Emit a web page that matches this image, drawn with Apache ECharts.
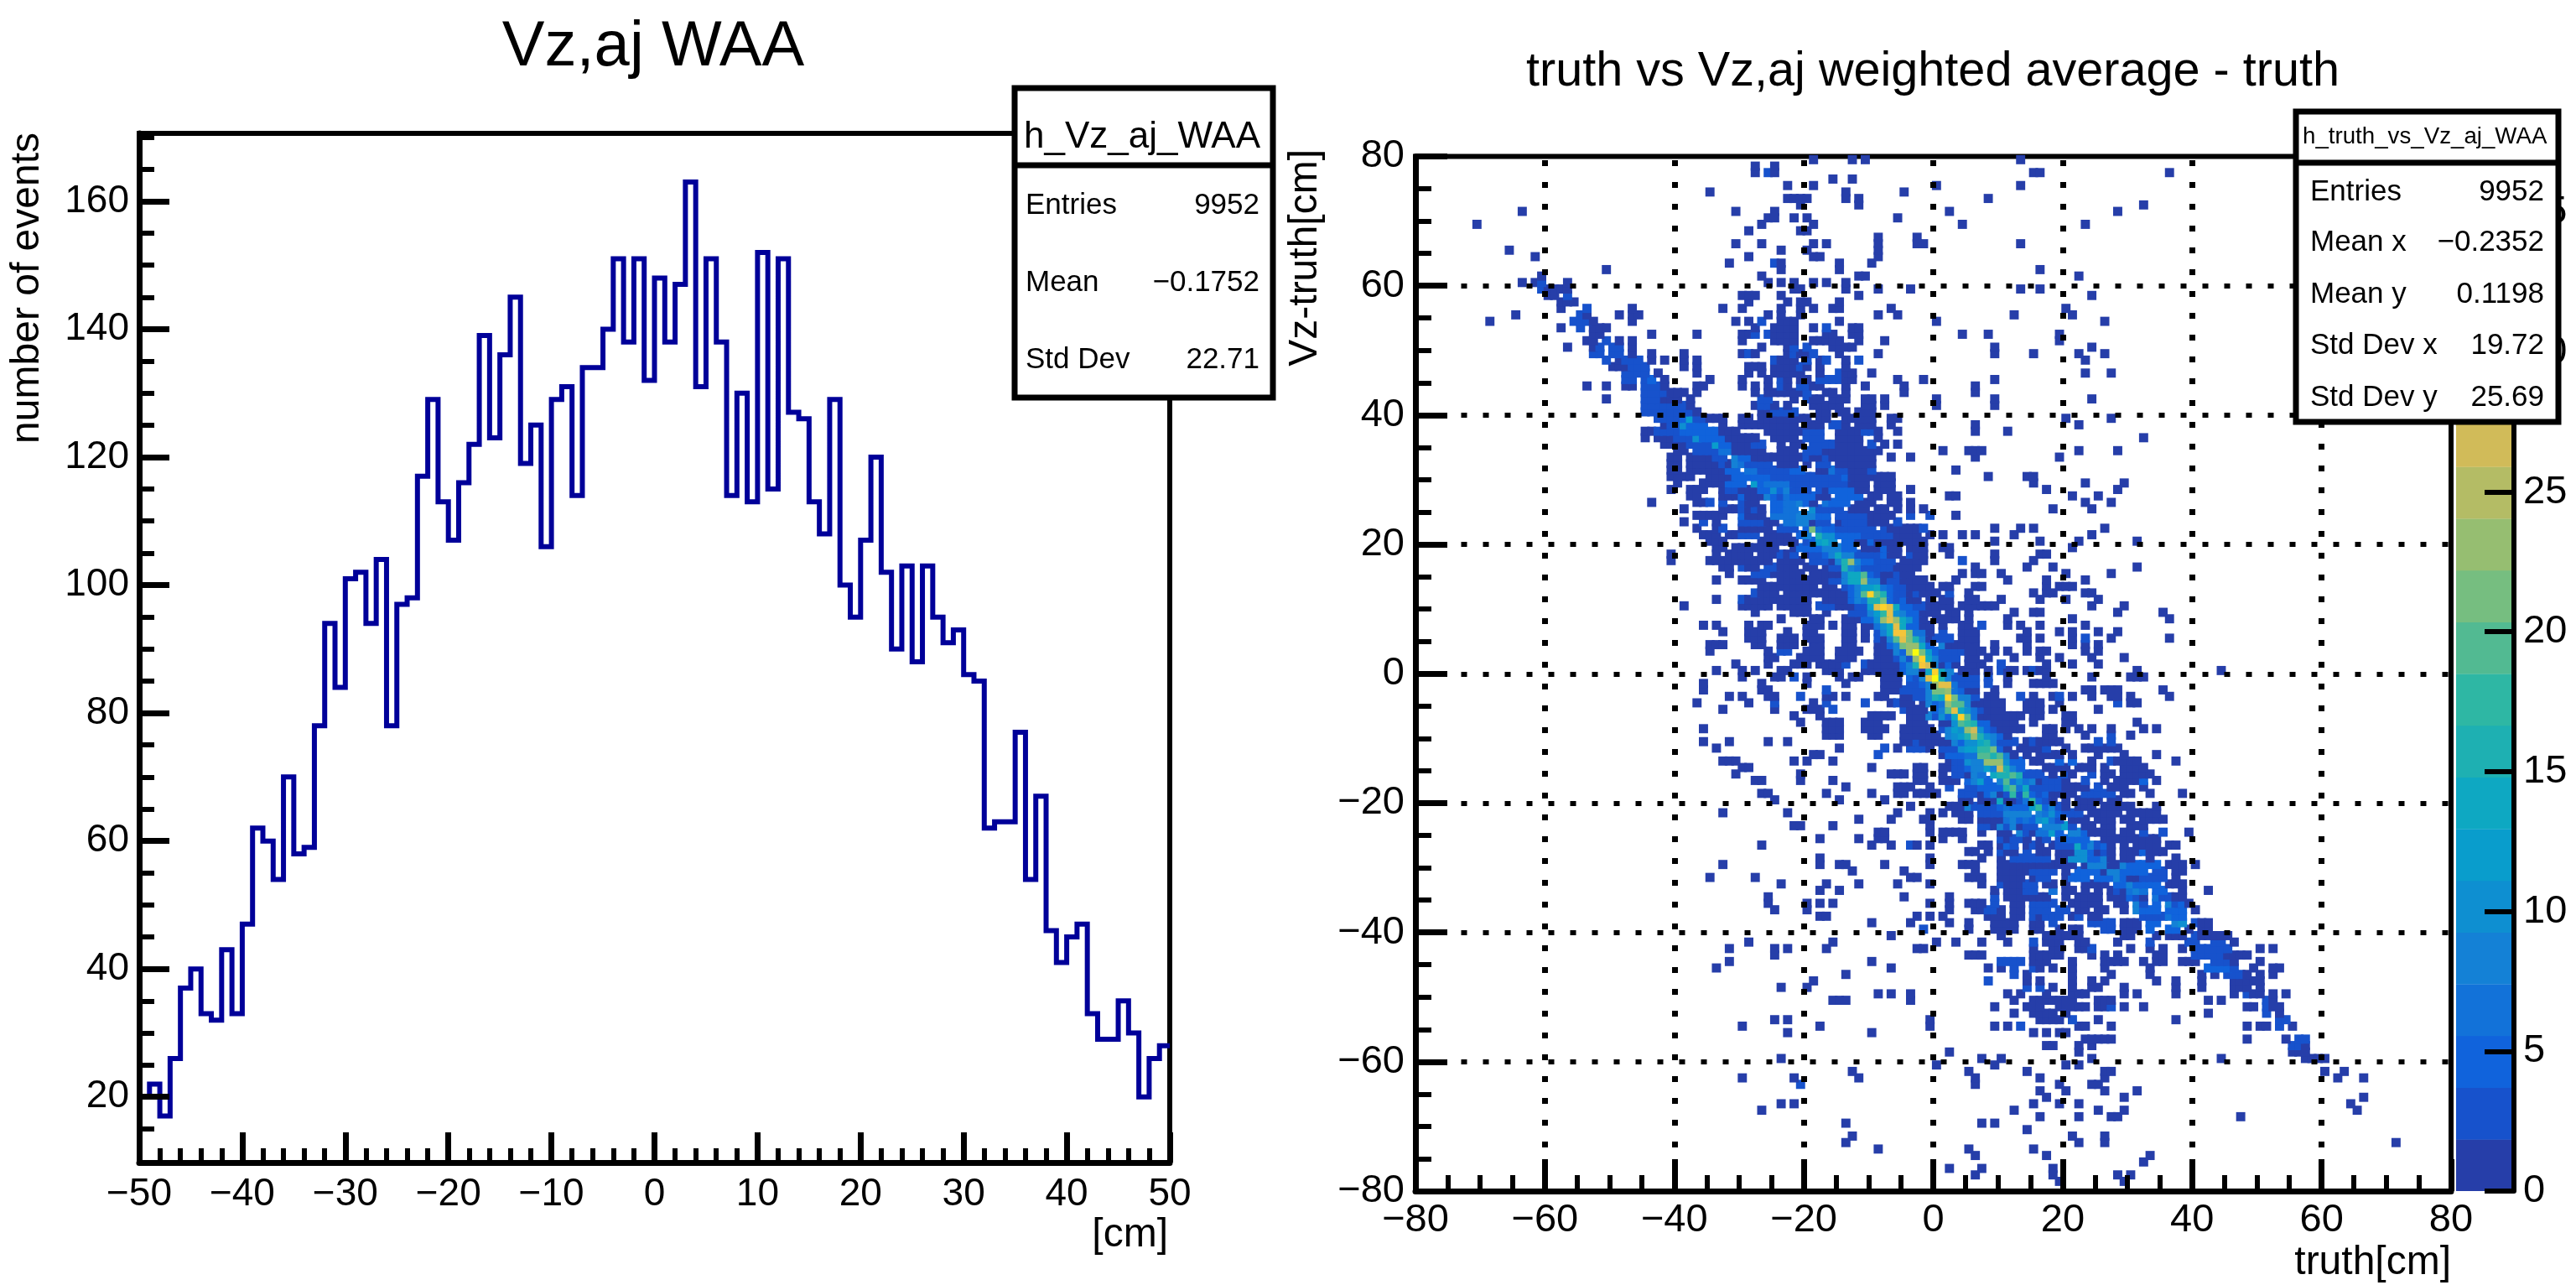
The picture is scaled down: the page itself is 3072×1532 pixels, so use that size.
<!DOCTYPE html>
<html><head><meta charset="utf-8">
<style>html,body{margin:0;padding:0;background:#fff}#c{width:3072px;height:1532px}</style>
<script src="https://cdn.jsdelivr.net/npm/echarts@6/dist/echarts.min.js"></script>
</head><body><div id="c"></div>
<script>
const FONT = 'Liberation Sans';
const histTitle = 'Vz,aj WAA';
const heatTitle = 'truth vs Vz,aj weighted average - truth';
// counts per 1 cm bin, from x = -50 to x = 50
const histValues = [20,22,17,26,37,40,33,32,43,33,47,62,60,54,70,58,59,78,94,84,
  101,102,94,104,78,97,98,117,129,113,107,116,122,139,123,136,145,119,125,106,
  129,131,114,134,134,140,151,138,151,132,148,138,147,163,131,151,138,114,130,113,
  152,115,151,127,126,113,108,129,100,95,107,120,102,90,103,88,103,95,91,93,
  86,85,62,63,63,77,54,67,46,41,45,47,33,29,29,35,30,20,26,28];
const histYMajor = [20,40,60,80,100,120,140,160];
const histYMinor = [15,25,30,35,45,50,55,65,70,75,85,90,95,105,110,115,125,130,135,145,150,155,165,170];
const barTicks = [0,5,10,15,20,25,30,35];
const histStats = [['Entries','9952'],['Mean','\u22120.1752'],['Std Dev','22.71']];
const heatStats = [['Entries','9952'],['Mean x','\u22120.2352'],['Mean y','0.1198'],['Std Dev x','19.72'],['Std Dev y','25.69']];
const barMax = 37;
const heatColors = ['#263EA9','#1752CC','#1063DC','#1272D9','#1481D6','#0E8FD1','#099DCC','#0EA8C2','#1EB0B2','#2EB7A4','#52BA92','#76BE80','#96BE71','#B4BC65','#D1BB59','#E3C049','#F5C53A','#FDD22B','#FBE61C','#F9FB0E'];
// row | columns: a, a:b (run), optional *count (default 1)
const heatRows = [
"79|-19 -13 -11 13","78|-28 -25","77|-28 -26*2 -25 15 16 36","76|-16 -13","75|-23 -19 0 13","74|-35 -14 -5",
"73|-23:-20 -14 -12 8","72|-21 -12 32","71|-64 -31 -25 2 28","70|-26 -25 -22 -20 -6","69|-71 -27 -19 4 23","68|-29 -21 -20",
"67|-9 -3","66|-31 -27 -19 -17 -9 -3 -2 13","65|-66 -24 -20 -9","64|-62 -29 -19 -18 -9","63|-32 -25*2 -24 -15 -10","62|-51 -24 -15 16",
"61|-61 -27 -12 -11 22","60|-64 -62 -61*2 -57 -26 -24 -22 -19 -17 -14","59|-61*3 -60:-57 -22 -21 -14 -9 -4 13 16","58|-60 -59 -57*2 -30:-28 -24 -12 24",
"57|-58:-56 -29 -23 -21 -20 -15","56|-58 -54*2 -47 -33 -30 -24 -21 -19 -16 -15 -7 20","55|-65 -55*3 -54 -49 -47 -46 -26 -24 -21 -9 -6 12 21",
"54|-69 -56:-54*3 -53 -47 -31 -29 -27*2 -24:-22 -15 0 26","53|-58 -55*2 -53:-51 -28 -25:-22 -19 -17*2 -13 -12",
"52|-53 -52 -44 -37 -30 -29 -28*2 -26*2 -25:-22 -17 -16 -13 -12 4 8 19","51|-54 -53 -51*2 -49 -47 -30 -25:-22 -19:-15 -12 -8 19",
"50|-57 -53 -52*2 -50*2 -49*2 -47 -27 -23 -22*2 -20*2 -16 -15 -14 -13 9 24",
"49|-53*2 -52*2 -50*3 -49*2 -47 -44 -39 -30 -29*2 -28 -23 -22*2 -21 -20 -19*2 -15 -9 9 15 22 26",
"48|-51*2 -49 -48*2 -47*2 -46*2 -44 -42 -39 -37 -25*2 -24:-22 -20*2 -18 -17*2 -14 -12*2 23",
"47|-50:-48 -47*2 -46*2 -45*2 -39 -37 -29:-27 -25:-22 -21*2 -20 -18 -14",
"46|-48*2 -47*2 -46*2 -45*2 -43 -37 -29 -27 -25:-22 -21 -18 -15*2 -14 -13 -10 23 27",
"45|-48*2 -47*3 -45*3 -44*4 -42 -35 -30 -26 -24*2 -23 -21 -20 -18*3 -17*2 -16*2 -15*2 -14 -13 -6 -2 9",
"44|-54 -51 -48 -47 -45*2 -44*3 -43*3 -42 -37 -36 -30 -28 -26 -24*2 -23 -21*3 -20*2 -19 -18 -14 -11 -5 6",
"43|-45:-42*2 -41:-39 -37 -28 -26 -25 -24:-22 -21 -20*3 -17 -16 -14 -5 6",
"42|-51 -45*3 -44*3 -43*3 -42 -41 -40 -38 -27*2 -26*2 -22 -20*2 -19 -18 -16:-14 -11 -10 -8 0 9 24",
"41|-45:-39*3 -38 -28 -27*3 -26*2 -25 -23 -19:-15 -11 -10 -8 0 9",
"40|-45:-38*3 -37 -27 -26 -25:-22*2 -18 -17 -15 -14 -12:-10",
"39|-43:-41*3 -40*3 -39*4 -38*12 -37*3 -36*2 -35:-33 -30 -29 -27:-22 -21:-20 -18:-17 -14:-12 -11:-10 -7 -6 20 27",
"38|-42 -41:-40*2 -39*10 -38:-36*4 -33 -30 -29 -28 -27:-22 -20:-19 -18 -16:-15*2 -14 -12:-11 -10 -7 6 22",
"37|-45 -44 -43:-40*2 -39:-37*4 -36:-34*5 -33:-31 -26:-22 -21 -20:-18*3 -15:-12 -11:-10*3 -9 -6 6 11",
"36|-45 -43:-41 -40:-38*3 -37*10 -36:-33*4 -32:-28 -25:-22 -20:-18*2 -15:-12 -9 32",
"35|-42 -41 -40 -39 -38:-35*3 -34*12 -33:-32*4 -31:-29 -28:-27*3 -24 -22:-21 -19:-16*3 -15:-12 -10*3 -8 -6",
"34|-40 -39 -37:-34*3 -33*6 -32*6 -31:-27 -24:-22 -20:-18*3 -17 -16 -15:-11 -10:-9 1 5:7 22 28",
"33|-41:-40 -38:-35 -34:-33*3 -31*8 -30*5 -29*4 -28:-27 -26:-25 -24:-21 -20*3 -19:-18 -17*3 -16:-12 -11:-10 -7 -4 6 19",
"32|-41:-40 -38 -37:-36 -35:-34 -33*3 -32 -31*8 -30*6 -29:-26*2 -24 -23:-22 -20 -18:-17*2 -15 -14:-12 -11:-10",
"31|-41:-40 -38:-36 -35:-33 -32:-31*5 -29*7 -28*7 -27:-23*3 -22:-21*4 -18:-17 -16*7 -15:-14*3 -13:-11 -10*3 3",
"30|-41 -40:-38 -35:-32 -31:-28*4 -27:-26*5 -25:-23*3 -22:-15*3 -14*4 -13 -12:-10 -9:-7 8 14 15",
"29|-40 -36:-35 -34:-33 -32:-30*4 -28*12 -27*4 -26:-23*6 -22:-14*3 -13:-11 -9:-7 15 23 29",
"28|-41 -38:-36 -33 -32:-31*2 -30:-28 -27:-26*4 -25*10 -24*5 -23*8 -22:-20*3 -18*3 -17 -16:-13*4 -12:-11 -9:-7 -4 17 28",
"27|-38 -37 -33 -32:-31 -30*5 -29:-27 -26*9 -25*5 -24*3 -23*6 -22:-19*4 -18:-17 -15*5 -14:-12*5 -10 -9 -7:-6 2:3 21 25",
"26|-44 -37:-36 -35*3 -33*3 -30*3 -29:-28 -25:-24*5 -23:-22*6 -21*8 -20*5 -19 -17*7 -16:-14*4 -12 -11 -10 -7:-6 -4 23 27",
"25|-39 -33:-31 -30*3 -29 -28*3 -27 -25:-24*4 -23:-22*7 -19*10 -18:-15*3 -13 -12:-11 -9:-8 -6 -4 -2 18 24",
"24|-37:-33 -30*5 -29:-27 -25*7 -24:-22*6 -21:-19*8 -18*5 -17*5 -15:-11*3 -10:-7 -4*3 -1*3 3",
"23|-39 -36*3 -34 -30:-27*2 -26:-25 -23:-22*6 -21*8 -20*8 -19 -18*3 -17*3 -15 -14:-12*3 -11*3 -10:-8 -6*3",
"22|-37 -34 -33*3 -30:-28 -27:-26 -24:-22*3 -20*4 -19*22 -18*6 -17:-16*4 -15:-10*3 -8*2 -7:-3 -2*3 9 13 15 26",
"21|-36 -35:-34 -32:-31 -30:-28*3 -26:-23 -21*4 -20*8 -18*16 -17*10 -16*10 -15:-13*4 -12*4 -11:-7*2 -6:-4 -3 -1 1 4 6 12 24",
"20|-35:-33 -27:-24 -23:-22 -20*3 -19*5 -18*12 -17*14 -16*10 -14:-13*4 -12:-11 -10*5 -9:-8 -7 -6:-3 -2 9 16 22 31",
"19|-34:-33 -31:-28 -27:-26 -25 -22 -21:-18*4 -17*8 -16*8 -15*8 -14:-13*5 -11:-9 -8*4 -7:-6 -4:-2 1:2 21",
"18|-41 -34 -32:-29 -27:-25 -24*3 -23 -22*3 -20 -19:-18*3 -17*5 -16*8 -15*14 -14*8 -13*8 -12:-9*3 -8*4 -7:-6 -4*3 -3:-2 2 9 16 17",
"17|-41 -35:-27 -26 -24:-21 -19:-18*3 -17*3 -16 -15*8 -14*16 -13*24 -12*8 -11:-10*5 -9:-7*3 -5:-2 4*3 9 15",
"16|-33:-32 -30*3 -29:-28 -26:-25*3 -24:-22 -20 -19 -17 -16*3 -15*3 -14*16 -13*8 -12*6 -11:-9*3 -8*3 -7*3 -6:-4 -3 6 14 18 31",
"15|-32 -28:-26*2 -25:-22 -21 -19:-18 -17:-15 -14*8 -13*14 -12*14 -11*20 -10*5 -9*3 -8:-7 -6*3 -5:-4 4 6 7 10 20 27",
"14|-34 -30:-28 -27 -24:-23 -22:-18 -17 -16:-15*3 -14*8 -13*14 -12*14 -11*24 -10*8 -9*8 -8 -7*3 -6*3 -5:-4 -3:-2 3 11 17 23",
"13|-27:-23 -22:-19 -17:-16 -14*3 -13*5 -12*8 -11*12 -10*12 -9*14 -8*6 -7*4 -6*3 -5*2 -4:-1 1 2 6 7 17 19:21",
"12|-28*3 -27:-25 -23:-19 -18:-14 -13*4 -12*8 -11*20 -10*33 -9*20 -8*16 -7*5 -6*3 -5*3 -4 -3*3 -2:-1 0 2*3 5 15 17:18 23:24",
"11|-34 -30*3 -29:-28 -27 -26:-23 -22:-20 -17:-16 -15:-14 -13*4 -12*8 -11*6 -10*16 -9*16 -8*22 -7*5 -6*3 -5*5 -4:-3 -1 1:2 5:6 10 16 20 25",
"10|-39 -30:-26 -24:-22 -21:-20 -18:-16*3 -15:-13 -12*3 -11*3 -10*12 -9*28 -8*33 -7*28 -6*14 -5*5 -4*5 -3:-2*3 -1 0:2 4:9 24 29",
"9|-28 -22:-20 -17 -13:-11*3 -10*8 -9*12 -8*18 -7*28 -6*10 -5*8 -4*5 -3*4 -2 -1:0 2:3 5 12 15:16 28 35",
"8|-24 -19:-18 -14:-12 -11:-10*4 -9*10 -8*24 -7*28 -6*24 -5*14 -4*10 -3*5 -2 0 1:2 3 5 11 21 36",
"7|-36 -34 -29 -27:-26 -20 -19:-18 -16 -14:-13 -11:-10 -9*6 -8*10 -7*14 -6*28 -5*14 -4:-3*5 -2:-1 1 4:5 7*3 11 13 16 23",
"6|-33 -29:-27 -23 -20 -19 -14 -13 -11 -9*3 -8*8 -7*14 -6*30 -5*30 -4*22 -3:-2*6 -1 1*3 4:6 14 19 21 25 28",
"5|-29:-27 -24:-22 -20:-18 -14:-13 -11 -9*3 -8 -7*8 -6*20 -5*28 -4*22 -3*16 -2*8 -1 0:2*3 4:6 13 14 16 21 23*2 27 36",
"4|-35:-33 -28:-27 -24:-22 -19:-18 -14:-13 -9:-8 -7*5 -6*8 -5*22 -4*24 -3*24 -2*14 -1*5 1*8 2 3:6 9 14 21 23 25",
"3|-35 -26 -24:-23*3 -20 -19:-18 -15:-12 -9:-8 -7 -6*8 -5*5 -4*24 -3*36 -2*22 -1*12 0*5 1:4*3 5:7 9 11 14 16 17 23 25",
"2|-26:-25 -21 -20 -19:-18 -15:-13 -9:-7 -6*3 -5*8 -4*3 -3*24 -2*33 -1*14 0*8 1:3*3 5:6 8 12 16 19 24 29",
"1|-31 -26 -22:-20 -18:-15 -14*3 -11*3 -10:-9 -8:-6 -5*5 -4*8 -3*16 -2*30 -1*26 0*8 1 2*5 3 5:7 10*3 17 21 25",
"0|-34 -30 -28 -24:-23 -17:-16 -15 -11 -10:-9 -8:-7 -6 -5*5 -4*8 -3*8 -2 -1*14 0*32 1*14 2*8 4 5:6 8 10*3 11:12 14 15*3 16:17 31 44",
"-1|-30 -25:-24 -22*3 -20 -15 -13:-12 -8:-6 -4*5 -3*3 -2*8 -1*28 0*36 1*16 2*8 3:6*2 8*2 11 17 24 30:32",
"-2|-36 -27 -20 -14 -8:-6 -4:-3*3 -2*5 -1*8 0*24 1*28 2*28 3*6 4:6*3 8*3 11 15:18",
"-3|-36 -27 -26 -17*2 -8:-6 -5:-3*3 -2*3 -1*8 0*22 1*22 2*24 3*6 4*5 5:6 9 23:24 26:28 35",
"-4|-32 -30 -26 -25 -21*2 -17 -16 -14 -9 -8 -5:-4 -3:-2*3 -1*8 0*16 1*14 2*32 3*22 4*8 5*8 6*3 8:9 13*3 15 18 19*3 21 24 27:28 30 36",
"-5|-37 -29 -25*2 -19 -17*2 -11*2 -7 -6*3 -5:-4 -2 -1*8 0*5 1*6 2*24 3*20 4*20 5*8 6 7 8:10 14:16 19 28*3 30:31",
"-6|-33 -25 -20:-18 -16*2 -5*3 -4:-2 0*5 1*8 2*20 3*28 4*14 5*10 6*6 7*3 8 9:10 14:16 18 25",
"-7|-22 -18 -10 -9 -8 -7 -4:-2 -1*8 0*3 1*10 2*5 3*14 4*33 5*20 6*6 7 8:10 11:13 15:16 20 21",
"-8|-21 -17:-15 -11:-9 -4:-3 -2 1:2 3*10 4*20 5*18 6*16 7*5 8*5 9 10:12 15 20 21 31",
"-9|-36 -17:-15 -11:-9 -8 -5:-3 -2:-1 1*3 2*8 3*12 4*10 5*24 6*26 7*10 8*5 9*3 10:13 17:18 20 22 24 27 32 34",
"-10|-17:-15 -10 -9 -5:-3 -2:0 2*8 3*10 4*12 5*16 6*24 7*16 8*10 9*8 10*5 11 17:18 23 27*3 30",
"-11|-36 -32 -26 -23 -5:-4 -3*3 -2:0 1:2 3*8 4*5 5*10 6*10 7*14 8*16 9*8 10:12*3 14 15*3 16:19 25*3 27*3",
"-12|-34 -15 -8*3 -6 -4:-2*3 -1 1*3 2*3 3*3 4*10 5*12 6*12 7*18 8*18 9*22 10*5 11 13:14 15:16 17*3 20 23:25 26:28",
"-13|-19 -18 -9*2 1:2 2:4*4 5*6 6*6 7*20 8*20 9*16 10*20 11*8 12 14 16:19 21 25 29 34",
"-14|-33:-31 -22 -20 -16 2 3:4*3 5*10 6*8 7*8 8*24 9*24 10*24 11*10 12*5 13*5 15:16 19*5 21*5 24 27*3 28:31 37",
"-15|-30 -29 -10 -3:-2 1:2 3:4*3 5*5 6*8 7*8 8*12 9*8 10*26 11*16 12*8 13*5 17:19 20 22:24 26 29:32",
"-16|-31 -21 -7:-5 -3:-2 1 3:4*3 5 6*8 7*6 9*14 10*16 11*16 12*20 13*16 14:16*3 18 20*3 21 24*3 26:27 29:33",
"-17|-28 -27 -21 -16 -3:-2 1:2 3 5*5 6*8 7*12 8*5 10*8 11*20 12*6 13*10 14*6 15*8 16 17:19*3 20 23*3 26 28 29:31 32*5 34",
"-18|-14 -6:-4 -1 2*3 5:6*3 7:9*5 10*5 11*16 12*20 13*6 14*14 15*3 16:19*3 20:22 23 25*3 27:28 29 32",
"-19|-27 -26 -17 -10 -6 -5 -3:-2 -1:0 4:6*3 7 8*5 9*8 10 11*3 12*18 13*3 14*18 15*5 16*3 17*5 18:21 23:27*3 29:30 33 38",
"-20|-25 -15 -8 4:5 7:9 10*14 11 12 13*3 14*6 15*18 16*5 17*3 18 20 22:24 25 27:28",
"-21|-4 2:4 5*8 6:9*3 10*5 11*6 12*5 13*5 14*5 15*12 16*18 17*5 18*8 19*3 20 22:24 26:28 29:30 34",
"-22|-33 -23 -6 -1 1 3:5 7:10*3 11*8 12:14*8 16*8 17*6 18*10 19*5 20:22*2 24:28 30:34",
"-23|-12 -7 -2 -1 4 5 7 8:10 11*6 12*8 13*5 14*6 15*5 16*10 17*12 18*6 19*3 21:23 25:27 29:30 32:35",
"-24|-22 -21 -16 -1 7*3 8*3 9 10*8 11*3 12*8 13 14*3 15*3 17*8 18:19*8 20*12 21*3 23:24 26:27 30:32",
"-25|-9 -8 -1 1:4 7 10 11 13*8 14*3 15 16*6 17*6 18*12 19*5 21*8 22*8 23*5 24 25:27 29:30 32*2 35*3 39",
"-26|-18 -12 -9 -8 1 4 10*3 11 12*3 13*3 14 16 17*3 19*3 20*5 21:23*4 26 27:30 31:34",
"-27|-27 -10 -7 -4*3 -3 -1 7 8 10 11*5 12*3 14 15*3 16 18 19:21*3 22*14 23*5 24*8 25*3 26*5 27 29 31:34 36:37",
"-28|5:6 8 10*3 11 12 14*3 16 17 19:21 22*10 23*10 24*5 25 26*3 27 29:31 32*5 33:34 35",
"-29|-18 -1 7 10 12:17*3 19:20 21*10 22*10 23*10 24*5 25*5 26*8 27 29:30 33 37",
"-30|-33 -18 -15 -14 -8 -1 4:6 10 11:17 18 19:21 23 24*8 25*8 26*8 27 28 29*8 30:34*4 36:38 40",
"-31|-13 -5 6 10:14 15:18*3 20 22:25*4 26 27*8 28*8 29:32*4 34:35*3 37:38",
"-32|-35 -28 -4:-3 5:7 10:13 15 16:17*3 20 21:23*5 25*5 26*5 27*5 28*8 29*5 30 31 32:35*3 37",
"-33|-24 -17 -12 -6 -1 7 10*3 11:13 14:15*3 17:18 20 23:24 25:26 28*5 29*5 30*8 31:34*4 36:38",
"-34|-18 -15 9 11:13 14:15*3 18*6 20:21 23 25 27 28*3 29 30*7 31*8 32*6 34*5 35*5 38 42",
"-35|-26 -5 2 9*3 11 12 13:17 20 22 23:25 27:28 29 30*5 31*3 32 34*6 35:36*3 37 38",
"-36|-26 -20 -18 -16 -1 2 5:7 9*3 12:13 15:18*3 21:23 24:25 28:29 31*8 32*3 34*4 36*8 37*3 38*5 39",
"-37|-25 -20 2 6:7 8*3 9*3 10 12:13 15:17*3 19:20*3 22:23 25 26 29 31*8 32:34*5 36*5 37*5 38*5 40",
"-38|-18 -17 -3 -1 1 8:10 12:13 15*3 16 17:19*3 21 22*3 24:25 32:35*3 36*6 37*5 38*4",
"-39|-10 -4 2 5 9:11 12 15:16 18*3 24*3 25:27*3 29:31 33:34*4 37*8 38*10 40*3 41:42",
"-40|-2*3 5 9:12 15:16 19 21:22 26:27*3 29:31 33*5 36:37*5 39 41:42",
"-41|-7 10 17:19 20:22 29:30 34 36:38 40*2 41:45",
"-42|-29 -16 0 3 7 11 15*3 17:19 22:23 28 33*2 39:40*2 43:44*2 46",
"-43|-32 -25 -23 -17 -3 -2 15 18:19 22:23 24*2 30 33 35 38 40:45*2 50 52",
"-44|-25 5:7 15:17 18:19 24 26 28 34:35 40:44*2 45:48",
"-45|-32 -10 10:13*2 15:17 21 26:29 32 34:35 38:40 43:45*3 46 50",
"-46|-34 -7 8 10 12*2 15*2 16 18 21 26 33 42:45*4 46*2 49 52:53",
"-47|-14 12*2 14 21 27 33 41 43 45:47*3 48 50 52",
"-48|-19 8*2 14 16 21 24 26 34 37 41 46:47 48:50",
"-49|-24 -20 14*2 16*2 18 21 24:25 29 37 41 46:48 50",
"-50|-9 -7 -4 11 13 17 21:23 29 31 37 46 48*2 49 50 52 54",
"-51|-16:-14 -4 12 15:18 19:20 21 25:27 42 44 51*2 52",
"-52|9 14:16 19:23 25:26 27*2 29 32 48:49 51*2 52:53",
"-53|12 15:18 20 42 51*2 53","-54|-25 -23 -1 16:19 21*2 25 37 53:54*2","-55|-30 -18 -1 9 11 13*2 22:23 27 48 50:51 53*2 55",
"-56|-23 -10 15 17 19:20","-57|23:27 48 54 56:57*3","-58|17:18 22 24 55:56*2 57","-59|2 22 55:57","-60|-24 7 10 24 44 57:60",
"-61|0 9 20 22","-62|-13 5 14 26:27 60 63","-63|-30 -22 -12 6 16 26 62 66","-64|-21*2 6 19 24:25","-65|16 20 26 31","-66|17 29 66",
"-67|-24 -22 15 19 22 64","-68|-27 12 25 29 65","-69|16 22 27 28 47","-70|-14 7 9","-71|14","-72|-13 21 26","-73|-14 22 26 71",
"-74|-9 5 15","-75|6 17 33","-76|32","-77|2 7 18","-78|6 18 28 30","-79|19 29"
];

function parseHeat(rows){
  const out=[];
  rows.forEach(r=>{
    const [iy,toks]=r.split('|');
    toks.trim().split(/\s+/).forEach(t=>{
      const [span,n]=t.split('*');
      const [a,b]=span.split(':').map(Number);
      const hi=(b===undefined||isNaN(b))?a:b;
      for(let x=a;x<=hi;x++) out.push([x,+iy,n?+n:1]);
    });
  });
  // ROOT paints cells bottom row first, left to right
  return out.sort((p,q)=>p[1]-q[1]||p[0]-q[0]);
}
const heatData=parseHeat(heatRows);
const histLine=[];
histValues.forEach((v,i)=>{histLine.push([-50+i,v]);histLine.push([-49+i,v]);});
const bandWidth=barMax/heatColors.length;
const barData=heatColors.map((c,i)=>[i*bandWidth,(i+1)*bandWidth,i]);

const minus=v=>String(v).replace('-','\u2212');
const black='#000';
const lab=(fs,margin,extra)=>Object.assign({fontFamily:FONT,fontSize:fs,color:black,margin,formatter:minus},extra||{});
const line=w=>({show:true,onZero:false,lineStyle:{color:black,width:w}});

function statBox(x0,y0,x1,yHead,y1,title,titleFs,titleX,titleY,rows,rowYs,lx,rx,fs){
  const els=[
    {type:'rect',z:100,shape:{x:x0,y:y0,width:x1-x0,height:y1-y0},style:{fill:'#fff',stroke:black,lineWidth:7}},
    {type:'line',z:101,shape:{x1:x0,y1:yHead,x2:x1,y2:yHead},style:{stroke:black,lineWidth:7}},
    {type:'text',z:102,x:titleX,y:titleY,style:{text:title,fill:black,font:titleFs+'px "'+FONT+'"',textAlign:'left',textVerticalAlign:'middle'}}
  ];
  rows.forEach((r,i)=>{
    els.push({type:'text',z:102,x:lx,y:rowYs[i],style:{text:r[0],fill:black,font:fs+'px "'+FONT+'"',textAlign:'left',textVerticalAlign:'middle'}});
    els.push({type:'text',z:102,x:rx,y:rowYs[i],style:{text:r[1],fill:black,font:fs+'px "'+FONT+'"',textAlign:'right',textVerticalAlign:'middle'}});
  });
  return els;
}
const axisText=(text,x,y,align,rot)=>({type:'text',z:50,x,y,rotation:rot||0,style:{text,fill:black,font:'48px "'+FONT+'"',textAlign:align,textVerticalAlign:'middle'}});

const chart=echarts.init(document.getElementById('c'),null,{renderer:'canvas'});
chart.setOption({
  animation:false,backgroundColor:'#fff',
  title:[
    {text:histTitle,left:774,top:14,textAlign:'center',textStyle:{fontFamily:FONT,fontSize:76,fontWeight:'normal',color:black}},
    {text:heatTitle,left:2300,top:52,textAlign:'center',textStyle:{fontFamily:FONT,fontSize:57.6,fontWeight:'normal',color:black}}
  ],
  grid:[
    {left:166,top:159,width:1229,height:1227,show:true,borderColor:black,borderWidth:6,backgroundColor:'transparent'},
    {left:1688,top:186.5,width:1235,height:1233.5,show:true,borderColor:black,borderWidth:6,backgroundColor:'transparent'},
    {left:2929,top:186.5,width:69,height:1233.5}
  ],
  xAxis:[
    {gridIndex:0,type:'value',min:-50,max:50,interval:10,z:10,axisLine:line(7),splitLine:{show:false},
      axisTick:{inside:true,length:36,lineStyle:{color:black,width:7}},
      minorTick:{show:true,splitNumber:5,length:17,lineStyle:{color:black,width:6}},axisLabel:lab(46,15)},
    {gridIndex:1,type:'value',min:-80,max:80,interval:20,z:10,axisLine:line(7),
      splitLine:{show:true,showMinLine:false,showMaxLine:false,lineStyle:{color:black,width:7,type:[7,19],dashOffset:-4.5}},
      axisTick:{inside:true,length:38,lineStyle:{color:black,width:7}},
      minorTick:{show:true,splitNumber:4,length:19,lineStyle:{color:black,width:6}},axisLabel:lab(47,12)},
    {gridIndex:2,type:'value',min:0,max:1,show:false}
  ],
  yAxis:[
    {gridIndex:0,type:'value',position:'left',min:9.74,max:170.6,z:10,axisLine:line(7),splitLine:{show:false},
      axisTick:{inside:true,length:36,customValues:histYMajor,lineStyle:{color:black,width:7}},
      axisLabel:lab(46,12,{customValues:histYMajor,padding:[4,0,0,0]})},
    {gridIndex:0,type:'value',position:'left',min:9.74,max:170.6,z:10,axisLine:{show:false,onZero:false},splitLine:{show:false},
      axisTick:{inside:true,length:18,customValues:histYMinor,lineStyle:{color:black,width:6}},
      axisLabel:{show:false}},
    {gridIndex:1,type:'value',position:'left',min:-80,max:80,interval:20,z:10,axisLine:line(7),
      splitLine:{show:true,showMinLine:false,showMaxLine:false,lineStyle:{color:black,width:6,type:[7,19],dashOffset:-2.5}},
      axisTick:{inside:true,length:38,lineStyle:{color:black,width:7}},
      minorTick:{show:true,splitNumber:4,length:19,lineStyle:{color:black,width:6}},axisLabel:lab(47,13,{padding:[4,0,0,0]})},
    {gridIndex:2,type:'value',position:'right',min:0,max:barMax,z:10,axisLine:line(6),splitLine:{show:false},
      axisTick:{inside:true,length:35,customValues:barTicks,lineStyle:{color:black,width:6}},
      axisLabel:lab(47,11,{customValues:barTicks,padding:[4,0,0,0]})}
  ],
  series:[
    {type:'line',name:'h_Vz_aj_WAA',xAxisIndex:0,yAxisIndex:0,data:histLine,showSymbol:false,symbol:'none',z:3,
      lineStyle:{color:'#000099',width:6,join:'miter',cap:'butt'}},
    {type:'custom',name:'h_truth_vs_Vz_aj_WAA',xAxisIndex:1,yAxisIndex:2,data:heatData,z:2,clip:true,
      encode:{x:0,y:1},
      renderItem:(p,api)=>{
        const x=api.value(0),y=api.value(1),c=api.value(2);
        const a=api.coord([x,y+1]),b=api.coord([x+1,y]);
        const k=Math.min(heatColors.length-1,Math.floor(c/bandWidth));
        const bleed=1.6; // the reference's cells bleed slightly past their bin edges
        return {type:'rect',shape:{x:a[0]-bleed,y:a[1]-bleed,width:b[0]-a[0]+2*bleed,height:b[1]-a[1]+2*bleed},style:{fill:heatColors[k]}};
      }},
    {type:'custom',name:'palette',xAxisIndex:2,yAxisIndex:3,data:barData,z:2,clip:true,
      encode:{y:[0,1]},
      renderItem:(p,api)=>{
        const a=api.coord([0,api.value(1)]),b=api.coord([1,api.value(0)]);
        return {type:'rect',shape:{x:a[0],y:a[1],width:b[0]-a[0],height:b[1]-a[1]+0.3},style:{fill:heatColors[api.value(2)]}};
      }}
  ],
  graphic:{elements:[
    axisText('number of events',33,158,'right',Math.PI/2),
    axisText('[cm]',1393,1473,'right'),
    axisText('Vz-truth[cm]',1557,178,'right',Math.PI/2),
    axisText('truth[cm]',2923,1506,'right'),
    ...statBox(1210,105,1518,197,474,'h_Vz_aj_WAA',44,1221,164,histStats,[245,337,429],1223,1502,35),
    ...statBox(2738,133,3051,194,503,'h_truth_vs_Vz_aj_WAA',27.7,2746,163,heatStats,[229,289,351,412,474],2755,3034,35)
  ]}
});
</script></body></html>
